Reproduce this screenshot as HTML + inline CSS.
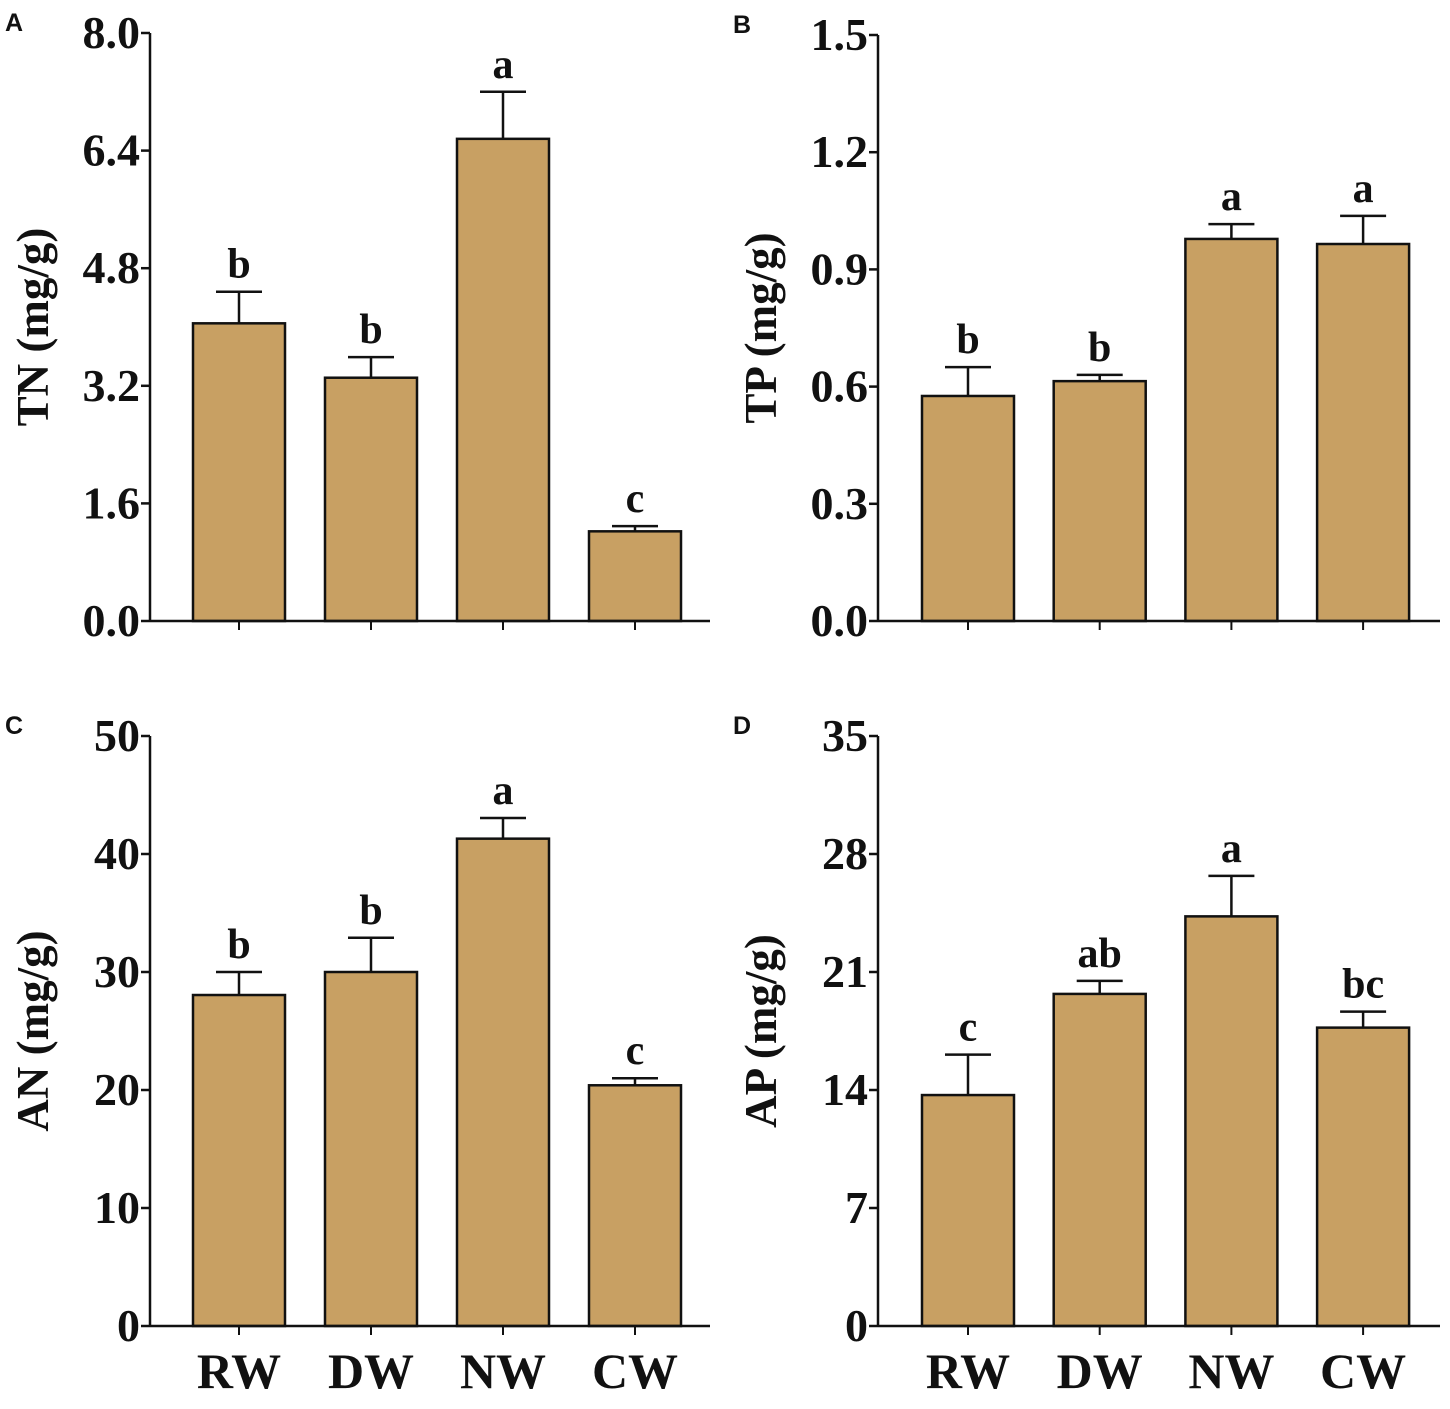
<!DOCTYPE html>
<html><head><meta charset="utf-8">
<style>
html,body{margin:0;padding:0;background:#fff;}
svg{display:block;}
text{font-family:"Liberation Serif",serif;font-weight:bold;fill:#111;}
</style></head>
<body>
<svg id="chart" width="1450" height="1409" viewBox="0 0 1450 1409" xmlns="http://www.w3.org/2000/svg"></svg>
<script>
const categories = ["RW","DW","NW","CW"];
const tnValues = [4.05,3.31,6.56,1.22];
const tnErrors = [0.43,0.28,0.64,0.07];
const tnLetters = ["b","b","a","c"];
const tnTicks = ["0.0","1.6","3.2","4.8","6.4","8.0"];
const tpValues = [0.576,0.614,0.978,0.965];
const tpErrors = [0.074,0.016,0.038,0.072];
const tpLetters = ["b","b","a","a"];
const tpTicks = ["0.0","0.3","0.6","0.9","1.2","1.5"];
const anValues = [28.05,30.0,41.3,20.4];
const anErrors = [1.95,2.9,1.75,0.6];
const anLetters = ["b","b","a","c"];
const anTicks = ["0","10","20","30","40","50"];
const apValues = [13.7,19.7,24.3,17.7];
const apErrors = [2.4,0.77,2.4,0.95];
const apLetters = ["c","ab","a","bc"];
const apTicks = ["0","7","14","21","28","35"];

const svg = document.getElementById('chart');
const NS = "http://www.w3.org/2000/svg";
function mk(tag, attrs, parent){const e=document.createElementNS(NS,tag);for(const k in attrs)e.setAttribute(k,attrs[k]);(parent||svg).appendChild(e);return e;}

function panel(cfg){
  const g = mk('g',{});
  
  
  const x0=cfg.x0, yTop=cfg.yTop, yBot=cfg.yBot, max=cfg.max;
  const y = v => yBot - (v/max)*(yBot-yTop);
  const bx = i => cfg.firstBar + i*cfg.step;
  const pl = mk('text',{x:cfg.x0-145,y:yTop-2,'font-size':25,style:'font-family:"Liberation Sans",sans-serif'},g);
  pl.textContent=cfg.letter;
  
  
  cfg.values.forEach((v,i)=>{
    const cx=bx(i)+46;
    const top=y(v), et=y(v+cfg.errors[i]);
    const eb=mk('line',{x1:cx,x2:cx,y1:top,y2:et,stroke:'#111','stroke-width':2.5},g);
    
    
    mk('line',{x1:cx-23,x2:cx+23,y1:et,y2:et,stroke:'#111','stroke-width':2.5},g);
    const r=mk('rect',{x:bx(i),y:top,width:92,height:yBot-top,fill:'#c8a063',stroke:'#111','stroke-width':2.5},g);
    
    
    const t=mk('text',{x:cx,y:et-14,'text-anchor':'middle','font-size':42},g);
    t.textContent=cfg.letters[i];
    
    
    mk('line',{x1:cx,x2:cx,y1:yBot,y2:yBot+9,stroke:'#111','stroke-width':2},g);
    if(cfg.showCats){
      const c=mk('text',{x:cx,y:yBot+62,'text-anchor':'middle','font-size':50},g);
      c.textContent=categories[i];
      
      
    }
  });
  const ya=mk('line',{x1:x0,x2:x0,y1:yTop,y2:yBot,stroke:'#111','stroke-width':2.5},g);
  
  
  const xa=mk('line',{x1:x0,x2:x0+cfg.axisLen,y1:yBot,y2:yBot,stroke:'#111','stroke-width':2.5},g);
  
  
  cfg.ticks.forEach((lab,i)=>{
    const v=i*max/(cfg.ticks.length-1);
    const ty=y(v);
    mk('line',{x1:x0-9,x2:x0,y1:ty,y2:ty,stroke:'#111','stroke-width':2.5},g);
    const t=mk('text',{x:x0-10,y:ty+15,'text-anchor':'end','font-size':46},g);
    t.textContent=lab;
    
    
  });
  const cy=(yTop+yBot)/2;
  const at=mk('text',{x:0,y:0,'text-anchor':'middle','font-size':45,transform:`translate(${x0-102},${cy}) rotate(-90)`},g);
  at.textContent=cfg.title;
  
  
}

panel({letter:'A',x0:150,yTop:33,yBot:621,max:8,firstBar:193,step:132,axisLen:560,values:tnValues,errors:tnErrors,letters:tnLetters,ticks:tnTicks,title:'TN (mg/g)',showCats:false});
panel({letter:'B',x0:878,yTop:35,yBot:621,max:1.5,firstBar:922,step:131.7,axisLen:562,values:tpValues,errors:tpErrors,letters:tpLetters,ticks:tpTicks,title:'TP (mg/g)',showCats:false});
panel({letter:'C',x0:150,yTop:736,yBot:1326,max:50,firstBar:193,step:132,axisLen:560,values:anValues,errors:anErrors,letters:anLetters,ticks:anTicks,title:'AN (mg/g)',showCats:true});
panel({letter:'D',x0:878,yTop:736,yBot:1326,max:35,firstBar:922,step:131.7,axisLen:562,values:apValues,errors:apErrors,letters:apLetters,ticks:apTicks,title:'AP (mg/g)',showCats:true});
</script>
</body></html>
